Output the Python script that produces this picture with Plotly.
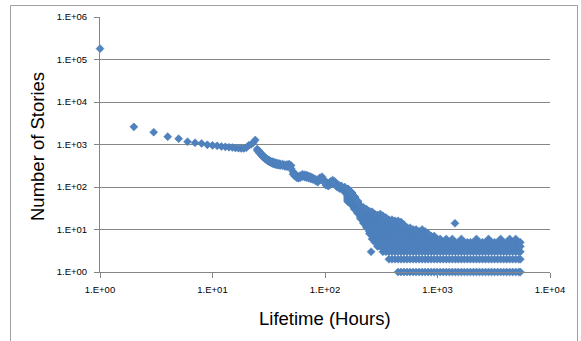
import plotly.graph_objects as go

# ---- data (lifetime in hours -> number of stories) ----
head_hours = [1, 2, 3, 4, 5, 6, 7, 8, 9, 10, 11, 12, 13, 14, 15, 16, 17, 18, 19, 20, 21, 22, 23, 24]
head_counts = [180000, 2600, 1950, 1530, 1370, 1160, 1100, 1060, 980, 955, 930, 900, 880, 860,
               850, 830, 820, 810, 810, 840, 960, 1000, 1100, 1280]

mid_hours = [25, 26, 27, 28, 29, 30, 31, 32, 33, 34, 35, 36, 37, 38, 39, 40, 42, 44, 46, 48, 50,
             52, 54, 56, 58, 60, 63, 66, 69, 72, 75, 78, 82, 86, 90, 94, 98, 102, 107, 112, 117,
             122, 128, 134]
mid_upper = [780, 700, 620, 560, 510, 475, 445, 425, 405, 395, 385, 375, 365, 360, 355, 350, 345,
             335, 340, 345, 320, 230, 205, 185, 175, 185, 200, 195, 190, 180, 175, 165, 155, 145,
             165, 175, 150, 125, 120, 135, 145, 135, 118, 108]
mid_lower = [720, 640, 570, 510, 470, 440, 410, 390, 375, 360, 350, 340, 335, 330, 325, 320, 315,
             305, 300, 300, 270, 200, 180, 165, 160, 165, 175, 170, 165, 160, 155, 150, 140, 130,
             145, 150, 130, 110, 105, 115, 125, 115, 100, 92]

# long-lived stories: observed range of counts (integer) around each lifetime
tail_hours = [140, 150, 160, 172, 183, 195, 207, 220, 234, 248, 262, 277, 293, 310, 327, 348, 370,
              394, 419, 446, 474, 504, 536, 570, 607, 645, 686, 730, 777, 826, 879, 935, 994, 1058,
              1125, 1197, 1273, 1354, 1441, 1532, 1630, 1734, 1844, 1962, 2087, 2220, 2361, 2512,
              2672, 2842, 3023, 3216, 3421, 3639, 3871, 4118, 4380, 4660, 4957, 5273, 5450]
tail_high = [105, 98, 90, 75, 60, 47, 36, 33, 30, 27, 26, 23, 22, 23, 21, 19, 17, 17, 16,
             16, 15, 13, 11, 11, 10, 10, 9, 10, 9, 8, 7, 7, 6, 6, 5, 6, 5, 6, 5, 5, 6, 5, 5, 5,
             5, 6, 5, 5, 5, 6, 5, 5, 5, 6, 5, 5, 6, 5, 6, 5, 5]
tail_low = [92, 75, 45, 38, 30, 24, 18, 14, 11, 8, 6, 5, 4, 4, 3, 3, 2, 2, 2,
            1, 1, 1, 1, 1, 1, 1, 1, 1, 1, 1, 1, 1, 1, 1, 1, 1, 1, 1, 1, 1, 1, 1, 1, 1, 1, 1, 1,
            1, 1, 1, 1, 1, 1, 1, 1, 1, 1, 1, 1, 1, 1]

outlier_hours = [257, 1430]
outlier_counts = [3, 14]

x_ticks = [1, 10, 100, 1000, 10000]
x_tick_text = ["1.E+00", "1.E+01", "1.E+02", "1.E+03", "1.E+04"]
y_ticks = [1, 10, 100, 1000, 10000, 100000, 1000000]
y_tick_text = ["1.E+00", "1.E+01", "1.E+02", "1.E+03", "1.E+04", "1.E+05", "1.E+06"]

# ---- assemble the single series ----
xs, ys = [], []
xs += head_hours
ys += head_counts
xs += mid_hours + mid_hours
ys += mid_upper + mid_lower
for h, lo, hi in zip(tail_hours, tail_low, tail_high):
    for c in range(lo, hi + 1):
        xs.append(h)
        ys.append(c)
xs += outlier_hours
ys += outlier_counts

FONT = "Liberation Sans, Arial, sans-serif"
GRID = "#868686"

fig = go.Figure()
fig.add_trace(go.Scatter(
    x=xs, y=ys, mode="markers",
    marker=dict(symbol="diamond", size=6.2, color="#4F81BD",
                line=dict(width=0.5, color="#4A7EBB")),
    cliponaxis=False, showlegend=False, hoverinfo="skip",
))

fig.update_layout(
    width=581, height=341,
    margin=dict(l=100, r=31, t=17, b=69, autoexpand=False),
    paper_bgcolor="white", plot_bgcolor="white",
    font=dict(family=FONT, color="#000000"),
    showlegend=False,
    xaxis=dict(type="log", range=[0, 4], tickvals=x_ticks, ticktext=x_tick_text,
               showgrid=False, zeroline=False, showline=True, linecolor=GRID, linewidth=1,
               ticks="outside", ticklen=5, tickcolor=GRID, tickwidth=1,
               tickfont=dict(size=9.5, family=FONT, color="#000000"),
               ticklabelstandoff=4, automargin=False),
    yaxis=dict(type="log", range=[0, 6], tickvals=y_ticks, ticktext=y_tick_text,
               showgrid=True, gridcolor=GRID, gridwidth=1, zeroline=False,
               showline=True, linecolor=GRID, linewidth=1,
               ticks="outside", ticklen=5, tickcolor=GRID, tickwidth=1,
               tickfont=dict(size=9.5, family=FONT, color="#000000"),
               ticklabelstandoff=5, automargin=False),
    annotations=[
        dict(text="Lifetime (Hours)", xref="paper", yref="paper", x=0.5, y=(272 - 318) / 255,
             xanchor="center", yanchor="middle", showarrow=False,
             font=dict(size=18.5, family=FONT, color="#000000")),
        dict(text="Number of Stories", xref="paper", yref="paper", x=(37 - 100) / 450,
             y=(272 - 146) / 255, xanchor="center", yanchor="middle", showarrow=False,
             textangle=-90, font=dict(size=18.5, family=FONT, color="#000000")),
    ],
    shapes=[
        dict(type="rect", xref="paper", yref="paper",
             x0=(10.5 - 100) / 450, x1=(577.5 - 100) / 450,
             y0=(272 - 5.5) / 255, y1=(272 - 360) / 255,
             line=dict(color="#A0A0A0", width=1), fillcolor="rgba(0,0,0,0)", layer="below"),
    ],
)

fig.write_html("out.html", config={"displayModeBar": False},
               post_script="document.body.style.margin='0';document.body.style.overflow='hidden';")
